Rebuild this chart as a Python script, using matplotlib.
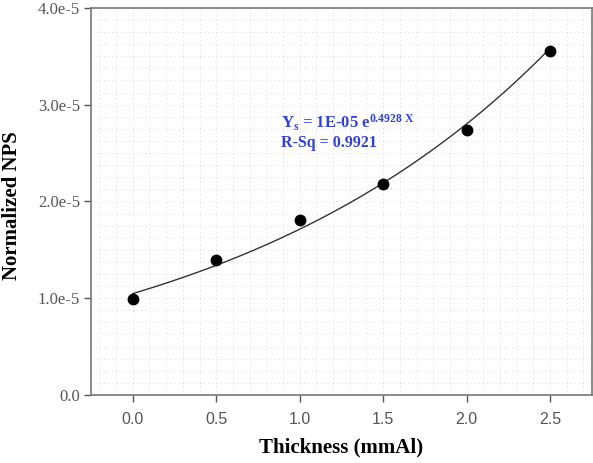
import numpy as np
import matplotlib
matplotlib.use("Agg")
import matplotlib.pyplot as plt
from matplotlib.ticker import MultipleLocator, FuncFormatter

plt.rcParams["mathtext.fontset"] = "custom"
plt.rcParams["mathtext.rm"] = "Liberation Serif:bold"
plt.rcParams["mathtext.it"] = "Liberation Serif:bold"
plt.rcParams["mathtext.bf"] = "Liberation Serif:bold"

# measured points
thickness = [0.0, 0.5, 1.0, 1.5, 2.0, 2.5]
nps = [0.99e-5, 1.39e-5, 1.81e-5, 2.18e-5, 2.74e-5, 3.55e-5]

# exponential fit y = a*exp(b*x)
b, ln_a = np.polyfit(thickness, np.log(nps), 1)
xs = np.linspace(0, 2.5, 100)
ys = np.exp(ln_a) * np.exp(b * xs)

def yfmt(v, pos):
    if abs(v) < 1e-12:
        return "0.0"
    return "{:.1f}e-5".format(v / 1e-5)

fig = plt.figure(figsize=(5.93, 4.63), dpi=100)
ax = fig.add_axes([0.1535, 0.147, 0.8445, 0.836])

ax.plot(xs, ys, color="#333333", lw=1.0)
ax.plot(thickness, nps, "o", color="black", ms=7.5)

ax.set_xlim(-0.25, 2.75)
ax.set_ylim(0, 4e-5)
ax.set_xticks([0.0, 0.5, 1.0, 1.5, 2.0, 2.5])
ax.set_yticks([0, 1e-5, 2e-5, 3e-5, 4e-5])
ax.yaxis.set_major_formatter(FuncFormatter(yfmt))
ax.xaxis.set_major_formatter(FuncFormatter(lambda v, p: "{:.1f}".format(v)))
ax.xaxis.set_minor_locator(MultipleLocator(0.1))
ax.yaxis.set_minor_locator(MultipleLocator(1.25e-6))
ax.grid(which="both", color="#cccccc", lw=0.6, ls=(0, (1, 4)))
ax.tick_params(which="minor", length=0)
ax.tick_params(which="major", length=5, width=1, color="#555555", direction="out")
ax.tick_params(axis="y", pad=3)
ax.tick_params(axis="x", pad=7)

for lbl in ax.get_yticklabels():
    lbl.set_family("Liberation Serif")
    lbl.set_fontsize(12)
    lbl.set_color("#555555")
for lbl in ax.get_xticklabels():
    lbl.set_family("Liberation Sans")
    lbl.set_fontsize(11.5)
    lbl.set_color("#555555")

for s in ax.spines.values():
    s.set_color("#777777")
    s.set_linewidth(1.2)

ax.set_xlabel("Thickness (mmAl)", family="Liberation Serif", fontweight="bold",
              fontsize=15, va="center")
ax.xaxis.set_label_coords(0.5, -0.137)
ax.set_ylabel("Normalized NPS", family="Liberation Serif", fontweight="bold",
              fontsize=15, va="center")
ax.yaxis.set_label_coords(-0.158, 0.49)

ax.text(0.89, 2.81e-5, r"Y$_s$ = 1E-05 e$^{0.4928\ X}$", color="#3040d8",
        family="Liberation Serif", fontweight="bold", fontsize=12, va="center")
ax.text(0.89, 2.60e-5, "R-Sq = 0.9921", color="#3040d8",
        family="Liberation Serif", fontweight="bold", fontsize=11.5, va="center")

fig.savefig("out.png", dpi=100)
